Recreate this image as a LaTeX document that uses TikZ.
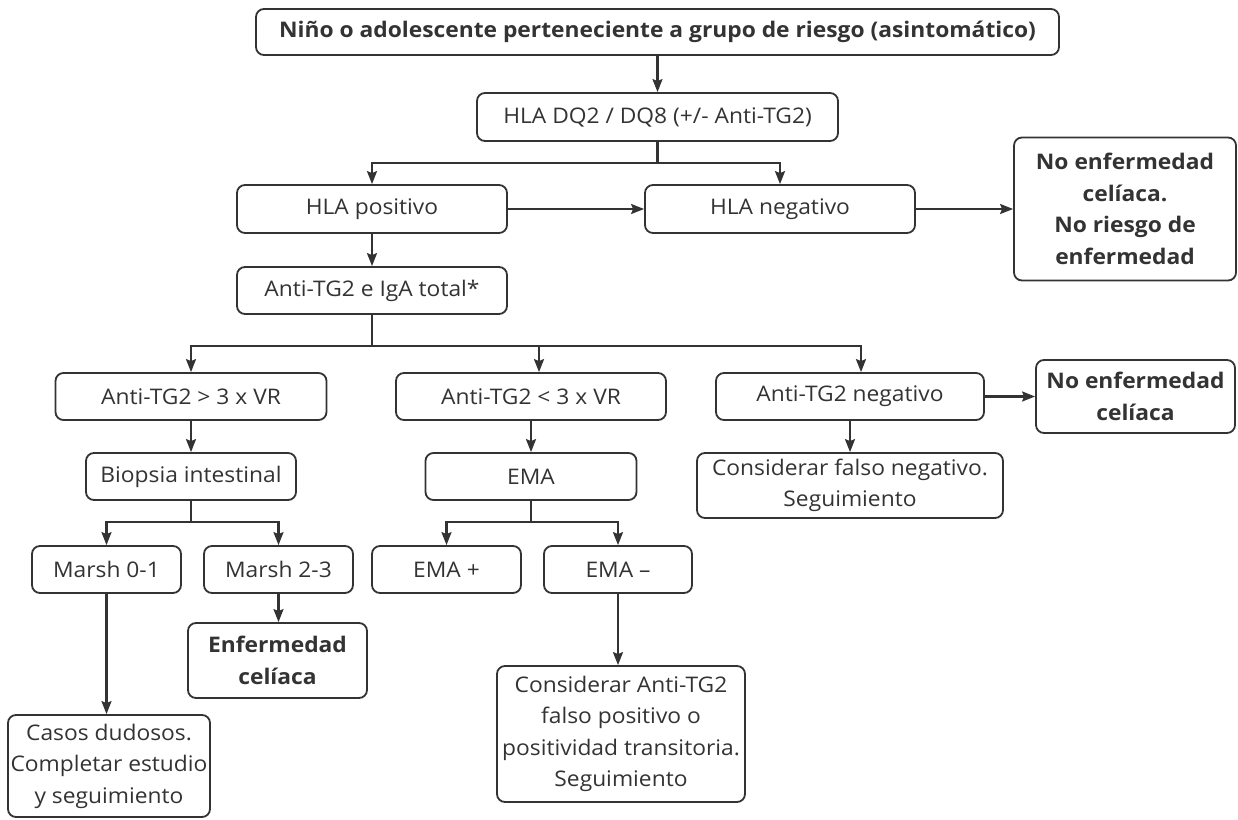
\documentclass[tikz,border=0pt]{standalone}
\usepackage{fontspec}
\setmainfont{Open Sans}[FakeStretch=1.06]
\usepackage{tikz}
\usetikzlibrary{arrows.meta, positioning}
\definecolor{linea}{HTML}{333333}
\definecolor{texto}{HTML}{333333}

\begin{document}
\begin{tikzpicture}[x=1pt, y=-1pt,
  caja/.style={draw=linea, line width=1.8pt, rounded corners=8pt, align=center, inner sep=0pt, text=texto, font=\fontsize{21.5}{31.5}\selectfont},
  negrita/.style={caja, font=\fontsize{21.5}{31.5}\selectfont\bfseries},
  dim/.style 2 args={minimum width=#1pt, minimum height=#2pt},
  tramo/.style={draw=linea, line width=2.2pt},
  flecha/.style={tramo, -{Stealth[length=13pt, width=10pt, inset=2pt]}}]

\useasboundingbox (0,0) rectangle (1238,819);

%// cribado HLA
\node[negrita, dim={803}{46}] (top) at (657.5,32) {Niño o adolescente perteneciente a grupo de riesgo (asintomático)};
\node[caja, dim={361}{48}] (hla) at (657.5,117) {HLA DQ2 / DQ8 (+/- Anti-TG2)};
\node[caja, dim={270}{48}] (hlapos) at (372,209) {HLA positivo};
\node[caja, dim={270}{48}] (hlaneg) at (780,209) {HLA negativo};
\node[negrita, dim={222}{143}] (noenf1) at (1125,209) {No enfermedad\\celíaca.\\No riesgo de\\enfermedad};
\node[caja, dim={270}{47}] (antitg) at (372,290.5) {Anti-TG2 e IgA total*};

%// serologia
\node[caja, dim={271}{47}] (gt) at (191,396.5) {Anti-TG2 > 3 x VR};
\node[caja, dim={270}{47}] (lt) at (531,396.5) {Anti-TG2 < 3 x VR};
\node[caja, dim={268}{47}] (neg) at (850,396.5) {Anti-TG2 negativo};
\node[negrita, dim={199}{73}] (noenf2) at (1135.5,396.5) {No enfermedad\\celíaca};
\node[caja, dim={210}{47}] (biopsia) at (191,476.5) {Biopsia intestinal};
\node[caja, dim={211}{47}] (ema) at (531,476.5) {EMA};
\node[caja, dim={306}{65}] (falsoneg) at (850,485.5) {Considerar falso negativo.\\Seguimiento};

%// resultados
\node[caja, dim={149}{47}] (marsh01) at (106.5,569.5) {Marsh 0-1};
\node[caja, dim={149}{47}] (marsh23) at (278.5,569.5) {Marsh 2-3};
\node[caja, dim={149}{47}] (emap) at (446.5,569.5) {EMA +};
\node[caja, dim={148}{47}] (eman) at (618,569.5) {EMA –};
\node[caja, dim={202}{102}] (casos) at (109,766) {Casos dudosos.\\Completar estudio\\y seguimiento};
\node[negrita, dim={179}{75}] (enf) at (277.5,660.5) {Enfermedad\\celíaca};
\node[caja, dim={248}{136}] (consid) at (621,734) {Considerar Anti-TG2\\falso positivo o\\positividad transitoria.\\Seguimiento};

%// puntos de reparto
\coordinate (b1) at (657.5,163);
\coordinate (b2) at (372,346);
\coordinate (b3) at (191,522);
\coordinate (b4) at (531,522);

\draw[flecha] (top) -- (hla);
\draw[tramo] (hla) -- (b1);
\foreach \n in {hlapos, hlaneg}
\draw[flecha] (b1) -| (\n);
\draw[flecha] (hlapos) -- (hlaneg);
\draw[flecha] (hlaneg) -- (noenf1);
\draw[flecha] (hlapos) -- (antitg);

\draw[tramo] (antitg) -- (b2);
\draw[flecha] (b2) -| (gt);
\draw[flecha] (b2) -| ([xshift=8pt]lt.north);
\draw[flecha] (b2) -| ([xshift=11pt]neg.north);
\draw[flecha] (neg) -- (noenf2);
\draw[flecha] (neg) -- (falsoneg);
\draw[flecha] (gt) -- (biopsia);
\draw[flecha] (lt) -- (ema);

\draw[tramo] (biopsia) -- (b3);
\foreach \n in {marsh01, marsh23}
\draw[flecha] (b3) -| (\n);
\draw[tramo] (ema) -- (b4);
\foreach \n in {emap, eman}
\draw[flecha] (b4) -| (\n);

\draw[flecha] (marsh01.south) -- (marsh01.south |- casos.north);
\draw[flecha] (marsh23.south) -- (marsh23.south |- enf.north);
\draw[flecha] (eman.south) -- (eman.south |- consid.north);
\end{tikzpicture}
\end{document}
